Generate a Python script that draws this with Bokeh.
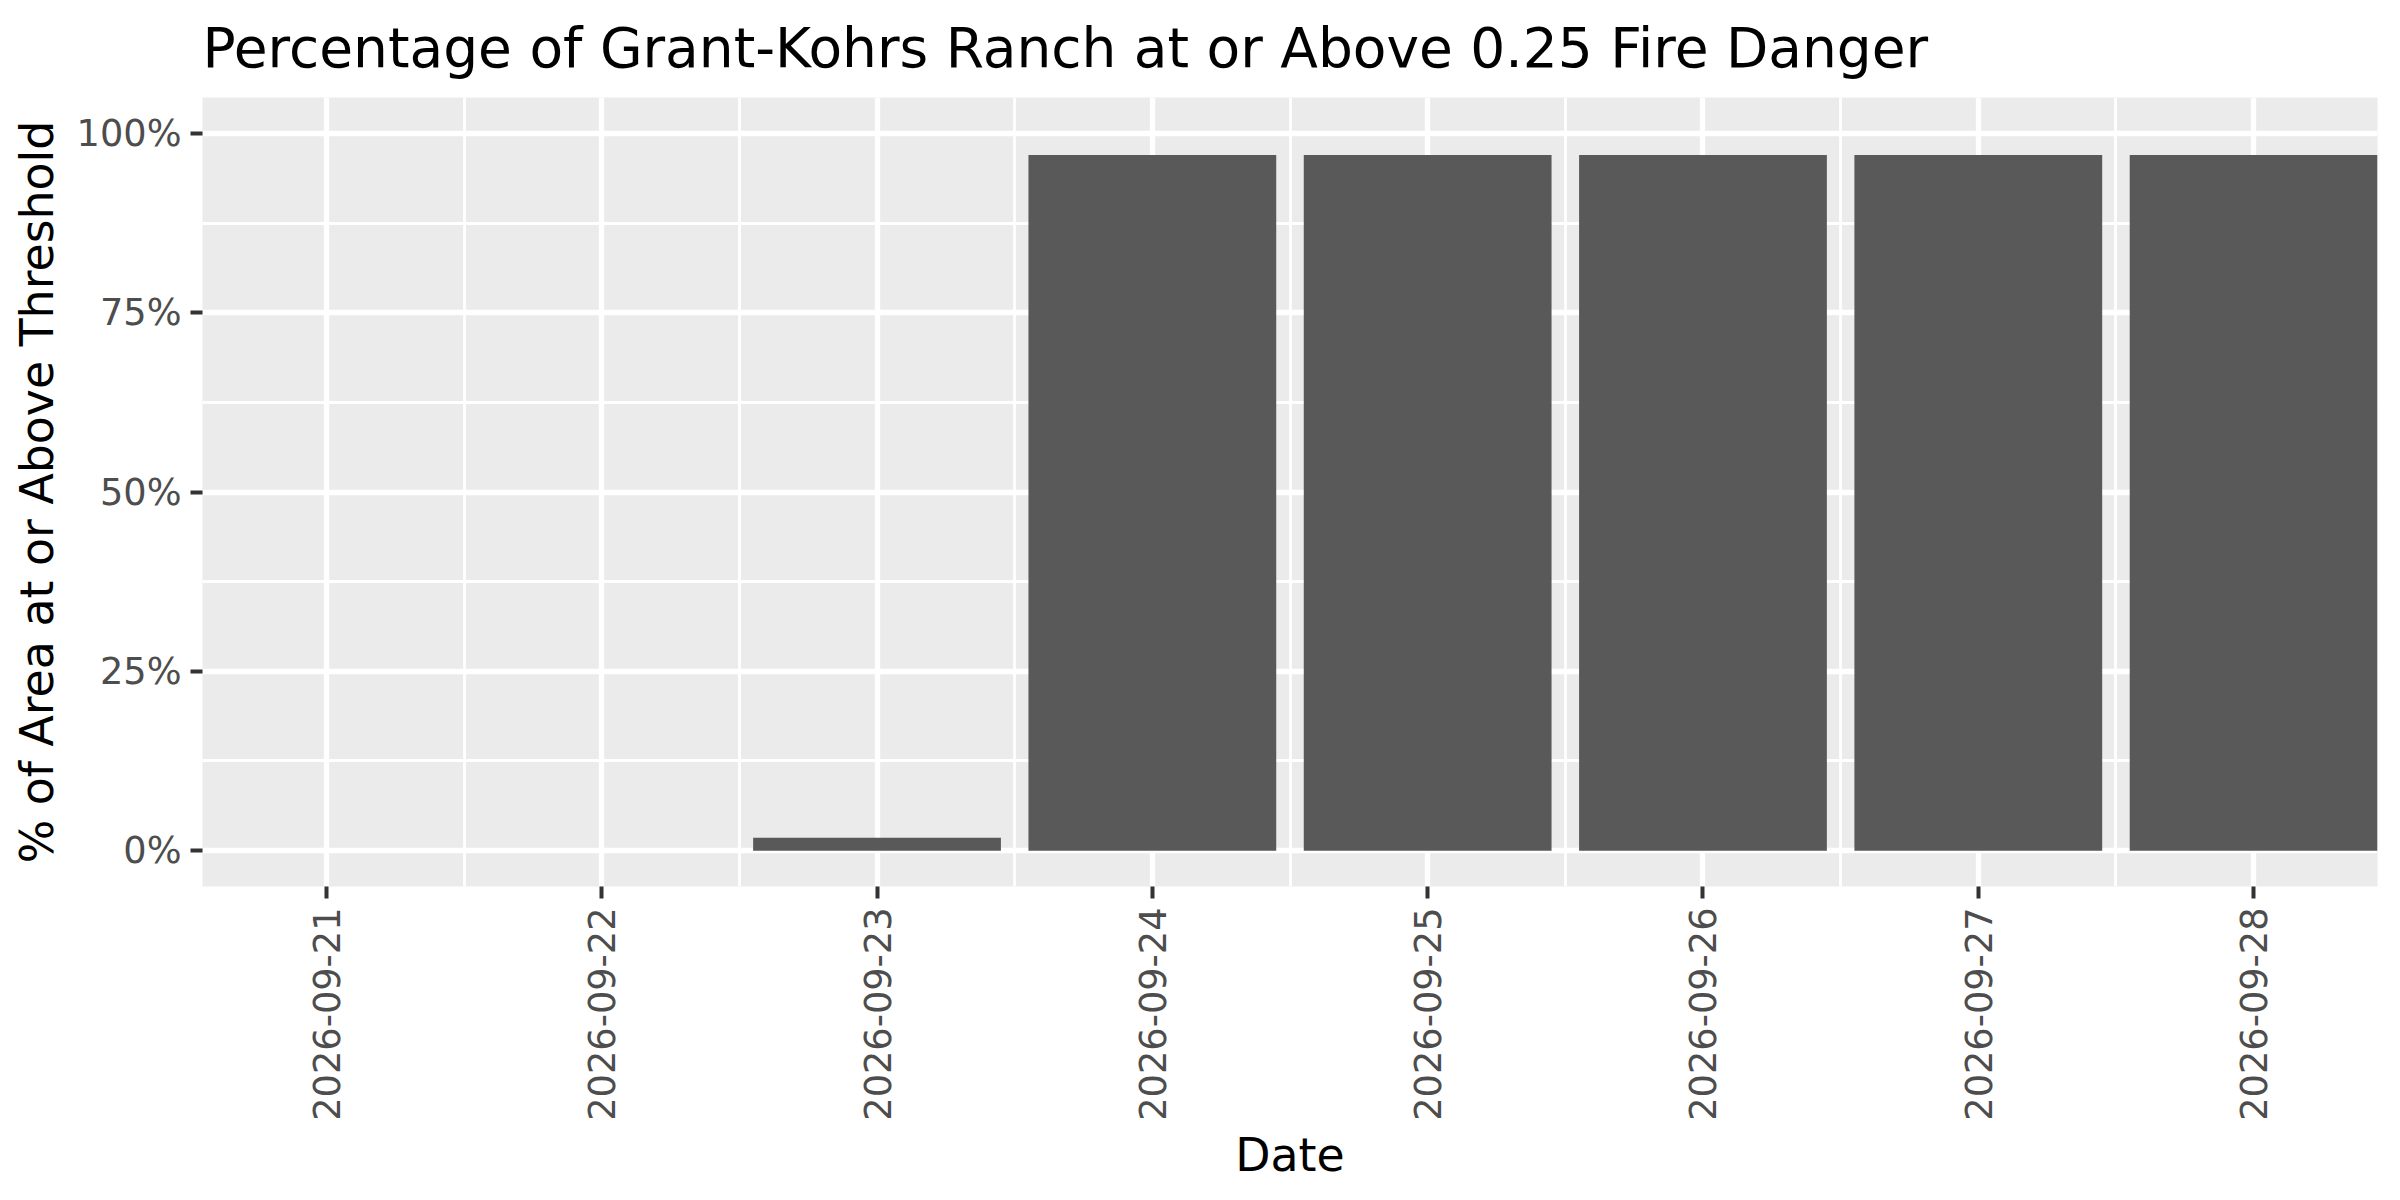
from bokeh.plotting import figure
from bokeh.models import Range1d, FixedTicker
from bokeh.embed import file_html
from bokeh.resources import INLINE

# ---- data ----
dates = ["2026-09-21", "2026-09-22", "2026-09-23", "2026-09-24",
         "2026-09-25", "2026-09-26", "2026-09-27", "2026-09-28"]
pct_above = [0.0, 0.0, 0.018, 0.97, 0.97, 0.97, 0.97, 0.97]
y_ticks = [0.0, 0.25, 0.5, 0.75, 1.0]
y_labels = ["0%", "25%", "50%", "75%", "100%"]

title_text = "Percentage of Grant-Kohrs Ranch at or Above 0.25 Fire Danger"
x_title = "Date"
y_title = "% of Area at or Above Threshold"

FONT = "DejaVu Sans"
xpos = list(range(1, len(dates) + 1))
x0, x1 = 0.55, len(dates) + 0.45
y0, y1 = -0.05, 1.05

p = figure(width=2384, height=1184, output_backend="svg", toolbar_location=None,
           x_range=Range1d(x0, x1), y_range=Range1d(y0, y1),
           min_border_left=202, min_border_right=7, min_border_top=97,
           min_border_bottom=295)

p.background_fill_color = "#EBEBEB"
p.border_fill_color = "white"
p.outline_line_color = None

p.vbar(x=xpos, top=pct_above, bottom=0, width=0.9, fill_color="#595959", line_color=None)

# x axis
x_minor = [a + 0.5 for a in xpos[:-1]]
p.xaxis.ticker = FixedTicker(ticks=xpos, minor_ticks=x_minor)
p.xaxis.major_label_overrides = {xv: d for xv, d in zip(xpos, dates)}
p.xaxis.major_label_orientation = 3.14159265 / 2
# y axis
y_minor = [(a + b) / 2 for a, b in zip(y_ticks[:-1], y_ticks[1:])]
p.yaxis.ticker = FixedTicker(ticks=y_ticks, minor_ticks=y_minor)
p.yaxis.major_label_overrides = {t: l for t, l in zip(y_ticks, y_labels)}

for ax in (p.xaxis[0], p.yaxis[0]):
    ax.axis_line_color = None
    ax.major_tick_in = 0
    ax.major_tick_out = 12
    ax.major_tick_line_color = "#333333"
    ax.major_tick_line_width = 4
    ax.minor_tick_line_color = None
    ax.major_label_text_font = FONT
    ax.major_label_text_font_size = "36.7px"
    ax.major_label_text_color = "#4D4D4D"
    ax.major_label_standoff = 9
    ax.axis_label_text_font = FONT
    ax.axis_label_text_font_size = "45.8px"
    ax.axis_label_text_font_style = "normal"
    ax.axis_label_text_color = "black"

p.xaxis.axis_label = x_title
p.yaxis.axis_label = y_title
p.xaxis.axis_label_standoff = 4
p.yaxis.axis_label_standoff = 10

for g in (p.xgrid[0], p.ygrid[0]):
    g.grid_line_color = "white"
    g.grid_line_width = 5.3
    g.minor_grid_line_color = "white"
    g.minor_grid_line_width = 2.8

p.title.text = title_text
p.title.text_font = FONT
p.title.text_font_size = "55px"
p.title.text_font_style = "normal"
p.title.text_color = "black"
p.title.align = "left"
p.title.vertical_align = "top"
p.title.standoff = 31

open("out.html", "w").write(file_html(p, INLINE))
